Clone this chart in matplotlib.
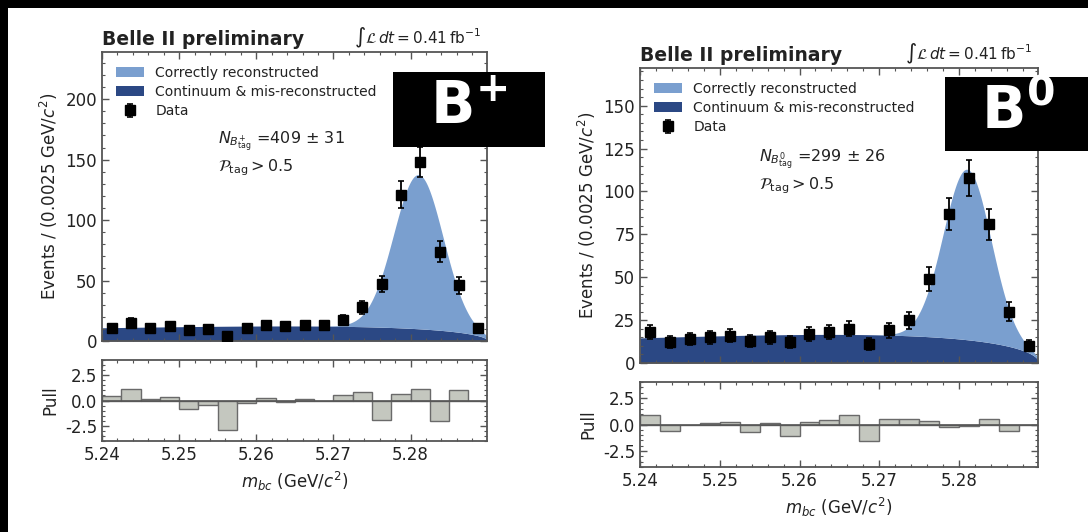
import numpy as np
import matplotlib
matplotlib.use('Agg')
import matplotlib.pyplot as plt
from matplotlib.patches import Patch, Rectangle
from matplotlib.ticker import MultipleLocator, FormatStrFormatter

plt.rcParams['font.family'] = ['DejaVu Sans']
plt.rcParams['mathtext.fontset'] = 'dejavusans'

# Mbc binning (GeV/c^2)
m_lo, m_hi, bin_w = 5.24, 5.29, 0.0025
m_end = 5.29  # ARGUS kinematic endpoint
centers = m_lo + bin_w * (np.arange(20) + 0.5)

# B+ tag sample
counts_bp = [11, 15, 11, 12, 9, 10, 4, 11, 13, 12, 13, 13, 17, 28, 47, 121, 148, 74, 46, 11]
pull_bp = [0.45, 1.15, 0.15, 0.38, -0.8, -0.4, -2.95, -0.25, 0.22, -0.15,
           0.13, 0.0, 0.57, 0.8, -1.95, 0.6, 1.17, -2.0, 1.0, 0.0]

# B0 tag sample
counts_b0 = [18, 12, 14, 15, 16, 13, 15, 12, 17, 18, 20, 11, 19, 25, 49, 87, 108, 81, 30, 10]
pull_b0 = [0.93, -0.62, -0.05, 0.12, 0.28, -0.68, 0.1, -1.08, 0.25, 0.4,
           0.93, -1.54, 0.52, 0.56, 0.37, -0.2, -0.1, 0.5, -0.62, 0.0]

# fit results: gaussian signal + ARGUS background
fit_bp = dict(n_sig=409, err=31, mu=5.281, sigma=0.0032, n_bkg=220, c=-50.0)
fit_b0 = dict(n_sig=299, err=26, mu=5.281, sigma=0.0030, n_bkg=295, c=-50.0)

c_sig = '#7a9fcf'
c_bkg = '#2b4884'
c_pull = '#c4c7bf'
c_axis = '#555555'
c_text = '#222222'


def argus(m, m0, c):
    z = np.clip(1 - (m / m0) ** 2, 0, None)
    return m * np.sqrt(z) * np.exp(c * z)


def fit_curves(fit, m):
    """signal and background in events per bin"""
    sig = fit['n_sig'] * bin_w * np.exp(-0.5 * ((m - fit['mu']) / fit['sigma']) ** 2) \
        / (np.sqrt(2 * np.pi) * fit['sigma'])
    shape = argus(m, m_end, fit['c'])
    bkg = fit['n_bkg'] * bin_w * shape / np.trapezoid(shape, m)
    return sig, bkg


def style_axis(ax):
    ax.tick_params(which='both', direction='in', top=True, right=True,
                   color=c_axis, labelcolor=c_text, labelsize=12)
    ax.tick_params(which='major', length=5, width=1)
    ax.tick_params(which='minor', length=2.5, width=0.8)
    for sp in ax.spines.values():
        sp.set_color(c_axis)
        sp.set_linewidth(1.3)


def draw_panel(fig, rect_main, rect_pull, counts, pulls, fit, ymax, ystep, tag):
    ax = fig.add_axes(rect_main)
    axp = fig.add_axes(rect_pull, sharex=ax)

    m = np.linspace(m_lo, m_hi, 600)
    sig, bkg = fit_curves(fit, m)
    ax.fill_between(m, 0, bkg, color=c_bkg, lw=0, zorder=1)
    ax.fill_between(m, bkg, bkg + sig, color=c_sig, lw=0, zorder=1)

    counts = np.asarray(counts, dtype=float)
    eb = ax.errorbar(centers, counts, yerr=np.sqrt(counts), fmt='s', color='black',
                     ms=7, capsize=2.5, elinewidth=1.3, capthick=1.2, zorder=5)

    ax.set_xlim(m_lo, m_hi - 0.0001)
    ax.set_ylim(0, ymax)
    ax.xaxis.set_major_locator(MultipleLocator(0.01))
    ax.xaxis.set_minor_locator(MultipleLocator(0.002))
    ax.yaxis.set_major_locator(MultipleLocator(ystep))
    ax.yaxis.set_minor_locator(MultipleLocator(ystep / 5))
    ax.tick_params(labelbottom=False)
    style_axis(ax)
    ax.set_ylabel('Events / (0.0025 GeV/$c^2$)', fontsize=12, color=c_text)

    handles = [Patch(fc=c_sig), Patch(fc=c_bkg), eb]
    labels = ['Correctly reconstructed', 'Continuum & mis-reconstructed', 'Data']
    ax.legend(handles, labels, loc='upper left', frameon=False, fontsize=10,
              handlelength=2.0, handleheight=0.75, labelspacing=0.38,
              borderaxespad=0.6, handletextpad=0.85, labelcolor=c_text)

    ax.text(0.0, 1.025, 'Belle II preliminary', transform=ax.transAxes,
            ha='left', va='baseline', fontsize=13.5, fontweight='bold', color=c_text)
    ax.text(0.985, 1.03, r'$\int\mathcal{L}\,dt = 0.41\,\mathrm{fb}^{-1}$',
            transform=ax.transAxes, ha='right', va='baseline', fontsize=11, color=c_text)
    ax.text(0.30, 0.69, r'$N_{B^{%s}_{\rm tag}}$ =%d $\pm$ %d' % (tag, fit['n_sig'], fit['err']),
            transform=ax.transAxes, ha='left', va='center', fontsize=11.5, color=c_text)
    ax.text(0.30, 0.60, r'$\mathcal{P}_{\rm tag} > 0.5$',
            transform=ax.transAxes, ha='left', va='center', fontsize=11.5, color=c_text)

    # pull panel
    axp.bar(centers, pulls, width=bin_w, color=c_pull, edgecolor='#6a6a6a', lw=1, zorder=2)
    axp.axhline(0, color=c_axis, lw=1.2, zorder=3)
    axp.set_ylim(-4, 4)
    axp.yaxis.set_major_locator(MultipleLocator(2.5))
    axp.yaxis.set_minor_locator(MultipleLocator(0.5))
    axp.yaxis.set_major_formatter(FormatStrFormatter('%.1f'))
    axp.xaxis.set_major_formatter(FormatStrFormatter('%.2f'))
    style_axis(axp)
    axp.set_ylabel('Pull', fontsize=12, color=c_text)
    axp.set_xlabel(r'$m_{bc}$ (GeV/$c^2$)', fontsize=12, color=c_text)
    return ax, axp


W, H = 1088, 532
fig = plt.figure(figsize=(W / 100, H / 100), dpi=100, facecolor='black')
fig.add_artist(Rectangle((8 / W, 0), 1 - 8 / W, 1 - 8 / H, transform=fig.transFigure,
                         facecolor='white', edgecolor='none', zorder=-5))


def frac(x0, y_top, x1, y_bot):
    return [x0 / W, (H - y_bot) / H, (x1 - x0) / W, (y_bot - y_top) / H]


draw_panel(fig, frac(102, 52, 487, 341), frac(102, 360, 487, 441),
           counts_bp, pull_bp, fit_bp, 239, 50, '+')
draw_panel(fig, frac(640, 68, 1038, 363), frac(640, 382, 1038, 467),
           counts_b0, pull_b0, fit_b0, 172, 25, '0')

# channel labels
for (x0, y_top, x1, y_bot), label in [((393, 72, 545, 147), r'$\mathbf{B}^{\mathbf{+}}$'),
                                      ((945, 77, 1090, 151), r'$\mathbf{B}^{\mathbf{0}}$')]:
    fig.add_artist(Rectangle((x0 / W, (H - y_bot) / H), (x1 - x0) / W, (y_bot - y_top) / H,
                             transform=fig.transFigure, facecolor='black',
                             edgecolor='none', zorder=10))
    fig.text((x0 + x1) / 2 / W, (H - (y_top + y_bot) / 2 + 2) / H, label, color='white',
             fontsize=42, ha='center', va='center', zorder=11)

fig.savefig('out.png', dpi=100)
